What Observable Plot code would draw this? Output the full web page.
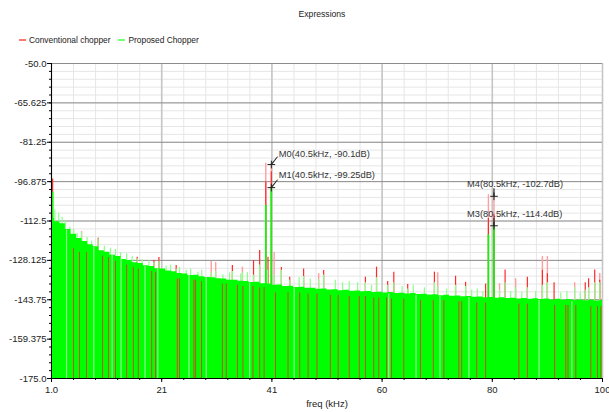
<!DOCTYPE html>
<html><head><meta charset="utf-8">
<script src="https://cdn.jsdelivr.net/npm/d3@7"></script>
<script src="https://cdn.jsdelivr.net/npm/@observablehq/plot@0.6"></script>
<style>
body{margin:0;background:#fff;font-family:"Liberation Sans",Arial,sans-serif;color:#222;}
#wrap{width:609px;height:412px;position:relative;overflow:hidden;}
#title{position:absolute;top:9px;left:0;width:644px;text-align:center;font-size:8.6px;}
#legend{position:absolute;top:35px;left:19px;font-size:8.4px;white-space:nowrap;}
#legend .sw{display:inline-block;width:7px;height:2px;vertical-align:middle;margin-right:3px;position:relative;top:-1px;}
#legend .it{margin-right:8px;}
#chart{position:absolute;top:50px;left:0;}
</style></head>
<body><div id="wrap">
<div id="title">Expressions</div>
<div id="legend"><span class="sw" style="background:#f77"></span><span class="it">Conventional chopper</span><span class="sw" style="background:#7f7"></span><span class="it">Proposed Chopper</span></div>
<div id="chart"></div>
</div>
<script>
// ---- axis ticks ----
const xTicks = [1.0, 20.8, 40.6, 60.4, 80.2, 100];
const xTickLabels = ["1.0", "21", "41", "60", "80", "100"];
const yTicks = [-50, -65.625, -81.25, -96.875, -112.5, -128.125, -143.75, -159.375, -175];
const yTickLabels = ["-50.0", "-65.625", "-81.25", "-96.875", "-112.5", "-128.125", "-143.75", "-159.375", "-175.0"];

// ---- Proposed Chopper: noise floor (1 kHz steps) ----
const floorFreq = d3.range(1, 101);
const floorDb = [
-111.5,-112.8,-113.6,-115.9,-117.8,-119.4,-120.6,-121.9,-122.7,-124.3,
-124.9,-126.1,-126.6,-127.8,-128.2,-129.1,-129.4,-130.3,-130.6,-131.4,
-131.5,-132.3,-132.6,-133.3,-133.5,-134.1,-134.0,-134.6,-134.9,-135.0,
-135.4,-135.5,-136.0,-136.0,-136.4,-136.5,-136.9,-136.8,-137.4,-137.5,
-138.0,-137.9,-138.5,-138.4,-138.9,-138.8,-139.2,-139.2,-139.6,-139.5,
-139.9,-139.8,-140.2,-140.0,-140.4,-140.3,-140.6,-140.5,-140.9,-140.8,
-141.1,-140.9,-141.3,-141.2,-141.5,-141.3,-141.7,-141.6,-141.9,-141.8,
-142.2,-142.0,-142.4,-142.3,-142.6,-142.5,-142.8,-142.7,-143.0,-142.9,
-143.2,-143.0,-143.3,-143.2,-143.5,-143.3,-143.6,-143.4,-143.7,-143.5,
-143.8,-143.6,-143.9,-143.7,-144.0,-143.8,-144.1,-143.9,-144.2,-144.0];

// Proposed Chopper: bins rising above the floor
const greenSpikeFreq = [1.6,2.3,2.9,3.5,4.3,5.0,5.6,6.4,7.4,8.2,9.4,10.5,11.6,12.5,13.4,14.5,15.5,16.4,17.3,18.5,19.4,20.3,21.6,22.4,23.4,24.0,25.2,26.0,27.3,28.0,29.7,30.5,31.8,33.0,33.5,35.0,35.3,36.2,37.3,38.4,39.8,41.0,42.3,43.8,45.5,46.3,47.5,49.0,49.9,52.0,53.3,54.5,56.0,57.4,58.5,59.4,61.4,62.5,64.0,65.0,66.0,68.0,69.8,70.4,72.0,73.6,75.4,76.5,77.5,78.5,81.5,82.5,83.5,84.4,85.5,86.5,88.0,89.2,90.1,92.5,93.6,95.0,96.0,96.9,97.5,98.6,99.5];
const greenSpikeDb = [-108,-109.4,-111,-112.5,-115,-115.8,-117.5,-117,-119,-120.5,-119.6,-122.5,-123.3,-123.8,-125,-125.5,-126.5,-127.5,-128,-128.3,-129,-128.5,-130.5,-130,-131.5,-131,-132,-131.5,-132.8,-132,-133,-132.5,-133.8,-133,-132.5,-133.5,-133,-133,-134,-130,-132,-134,-132,-136,-135,-134.5,-135.5,-135.8,-134,-136,-137,-136.5,-137,-137,-138,-135,-138,-137,-138.5,-139.5,-138,-139,-137,-138.5,-139.5,-138,-138.5,-140,-139.5,-140.5,-140,-137,-140.5,-139,-140.8,-139,-140.5,-138,-137,-141,-140.5,-139,-141,-140,-139,-137,-137];

// Proposed Chopper: strong bins (DC region and chopper tones)
const greenToneFreq = [1.2, 39.5, 40.5, 79.5, 80.5];
const greenToneDb = [-101, -106.3, -99.25, -118, -114.4];

// Proposed Chopper: pale (low) bins inside the floor
const paleGreenFreq = [3.7,8.6,11.9,13.5,17.8,20.1,25.7,28.8,36.6,44.6,61.6,66.5,70.8,76.0,88.6,94.5];
const paleGreenDb = [-116,-123,-126,-127.5,-130.5,-131.5,-134,-135,-137,-139,-141.5,-142,-142.5,-143,-144,-144.5];

// ---- Conventional chopper ----
const redTipFreq = [1.2,9.4,16.4,19.4,20.3,23.4,33.5,37.3,38.4,39.5,39.9,40.5,42.3,43.8,46.3,49.9,57.4,59.4,61.4,62.5,65.0,69.8,73.6,75.4,79.0,79.5,80.5,82.5,86.5,89.2,90.1,91.3,96.9,97.5,98.6,99.5];
const redTipDb = [-95.8,-119.3,-126.9,-128.2,-127,-130.2,-130.2,-128.2,-124.2,-96.9,-126.9,-93,-131,-134.8,-131.5,-132.1,-134.8,-130.8,-136.5,-132.8,-137.7,-132.8,-134.4,-136.8,-137.5,-111.5,-110,-131.9,-134.8,-132,-133.4,-137,-137,-135.4,-131.9,-136];
const redPaleFreq = [4.3,6.4,29.7,30.5,35.3,39.5,40.5,41.0,49.0,70.4,79.5,80.5,81.5,84.4,89.2,90.1,95.0,99.5];
const redPaleDb = [-117.3,-116.7,-128.6,-129,-130.8,-89.6,-90.1,-124.9,-133.4,-133,-102.1,-102.7,-137.4,-135.4,-126.6,-126.6,-137,-133.3];
// Conventional chopper bins visible where the proposed spectrum dips
const redBodyFreq = [4.95,6.03,7.29,10.17,11.24,12.5,14.5,15.7,16.6,19.0,19.7,23.6,24.0,26.6,26.9,27.95,31.7,32.4,34.4,35.4,37.2,38.4,39.2,41.25,43.5,45.6,47.1,48.7,51.1,52.5,54.5,56.3,57.4,58.9,59.8,61.2,62.1,64.3,67.3,69.6,71.5,74.2,74.7,77.4,79.0,84.98,86.5,91.4,93.4,93.8,95.2,97.9,99.1,99.7];
const redBodyDb = [-123.5,-124.9,-125,-126.5,-127,-128.5,-130,-131,-131.5,-132.5,-133,-135.5,-135.5,-136,-136,-136.5,-137.5,-137.5,-138,-138.5,-138.5,-139,-139,-141,-141,-141,-141.5,-141.5,-142,-142,-142.5,-142.5,-142.5,-143,-143,-143,-143.5,-143.5,-144,-144,-144,-144.5,-144.5,-145,-145,-145.5,-145.5,-146,-146,-146,-146,-146.5,-146.5,-146.5];

// ---- markers ----
const markerName = ["M0", "M1", "M4", "M3"];
const markerFreq = [40.5, 40.5, 80.5, 80.5];
const markerDb = [-90.1, -99.25, -102.7, -114.4];
const markerLabel = ["M0(40.5kHz, -90.1dB)", "M1(40.5kHz, -99.25dB)", "M4(80.5kHz, -102.7dB)", "M3(80.5kHz, -114.4dB)"];

// ---- build tables ----
const zip = (xs, ys) => xs.map((x, i) => ({f: x, db: ys[i]}));
const floor = zip(floorFreq, floorDb);
const gSp = zip(greenSpikeFreq, greenSpikeDb);
const gTone = zip(greenToneFreq, greenToneDb);
const gPale = zip(paleGreenFreq, paleGreenDb);
const rTip = zip(redTipFreq, redTipDb);
const rPale = zip(redPaleFreq, redPaleDb);
const rBody = zip(redBodyFreq, redBodyDb);
const markers = markerName.map((n, i) => ({name: n, f: markerFreq[i], db: markerDb[i], label: markerLabel[i]}));
const mLeft = markers.filter(m => m.f < 60), mRight = markers.filter(m => m.f >= 60);

const minorX = d3.range(1, 100.001, 19.8 / 5);
const minorY = d3.range(-175, -49.999, 125 / 40);
const xFmt = new Map(xTicks.map((t, i) => [t, xTickLabels[i]]));
const yFmt = new Map(yTicks.map((t, i) => [t, yTickLabels[i]]));
const FLOOR = -175;

const chart = Plot.plot({
  width: 609, height: 362,
  marginTop: 13, marginLeft: 51, marginRight: 7, marginBottom: 34,
  x: {domain: [1, 100], axis: null},
  y: {domain: [-175, -50], axis: null},
  style: {fontFamily: "'Liberation Sans', Arial, sans-serif", fontSize: "9.5px", color: "#222", background: "white", overflow: "visible"},
  marks: [
    // grid
    Plot.ruleX(minorX, {stroke: "#e6e6e6", strokeWidth: 1}),
    Plot.ruleY(minorY, {stroke: "#e6e6e6", strokeWidth: 1}),
    Plot.ruleX(xTicks, {stroke: "#c6c6c6", strokeWidth: 1.6}),
    Plot.ruleY(yTicks, {stroke: "#8c8c8c", strokeWidth: 1}),
    // conventional chopper (behind)
    Plot.ruleX(rPale, {x: "f", y1: FLOOR, y2: "db", stroke: "#ff9e9e", strokeWidth: 1.4, clip: true}),
    Plot.ruleX(rTip, {x: "f", y1: FLOOR, y2: "db", stroke: "#ff2a2a", strokeWidth: 1.2, clip: true}),
    // proposed chopper
    Plot.ruleX(gSp, {x: "f", y1: FLOOR, y2: "db", stroke: "#8cff8c", strokeWidth: 1.2, clip: true}),
    Plot.areaY(floor, {x: "f", y1: FLOOR, y2: "db", curve: "step", fill: "#00ff00", clip: true}),
    Plot.ruleX(gTone, {x: "f", y1: FLOOR, y2: "db", stroke: "#00ff00", strokeWidth: 1.6, clip: true}),
    Plot.ruleX(gPale, {x: "f", y1: FLOOR, y2: "db", stroke: "#93ff93", strokeWidth: 1.2, clip: true}),
    Plot.ruleX(rBody, {x: "f", y1: FLOOR, y2: "db", stroke: "#c2541c", strokeWidth: 1, clip: true}),
    // axes
    Plot.ruleX([1], {stroke: "#000", strokeWidth: 1}),
    Plot.ruleY([-175], {stroke: "#000", strokeWidth: 1}),
    Plot.axisY(minorY, {anchor: "left", label: null, tickSize: 2, tickFormat: () => "", stroke: "#000"}),
    Plot.axisY(yTicks, {anchor: "left", label: null, tickSize: 4, tickPadding: 1, tickFormat: d => yFmt.get(d), stroke: "#000", fill: "#222"}),
    Plot.axisX(minorX, {anchor: "bottom", label: null, tickSize: 2, tickFormat: () => "", stroke: "#000"}),
    Plot.axisX(xTicks, {anchor: "bottom", label: null, tickSize: 4, tickPadding: 4, tickFormat: d => xFmt.get(d), stroke: "#000", fill: "#222"}),
    Plot.text(["freq (kHz)"], {frameAnchor: "bottom", dy: 28, fill: "#222", fontSize: 9.5}),
    // markers
    Plot.vector(mLeft, {x: "f", y: "db", anchor: "start", length: 10, rotate: 38, shape: "spike", r: 0.4, stroke: "#333", strokeWidth: 0.7, fill: "#333"}),
    Plot.vector(mRight, {x: "f", y: "db", anchor: "start", length: 8, rotate: 0, shape: "spike", r: 0.4, stroke: "#333", strokeWidth: 0.7, fill: "#333"}),
    Plot.dot(markers, {x: "f", y: "db", symbol: "plus", r: 2.6, stroke: "#222", strokeWidth: 1}),
    Plot.text(mLeft.slice(0, 1), {x: "f", y: "db", text: "label", textAnchor: "start", dx: 7.5, dy: -10.5, fill: "#333", fontSize: 9.3}),
    Plot.text(mLeft.slice(1), {x: "f", y: "db", text: "label", textAnchor: "start", dx: 7.5, dy: -13, fill: "#333", fontSize: 9.3}),
    Plot.text(mRight, {x: "f", y: "db", text: "label", textAnchor: "start", dx: -27, dy: -12, fill: "#333", fontSize: 9.3})
  ]
});
document.getElementById("chart").appendChild(chart);
</script>
</body></html>
